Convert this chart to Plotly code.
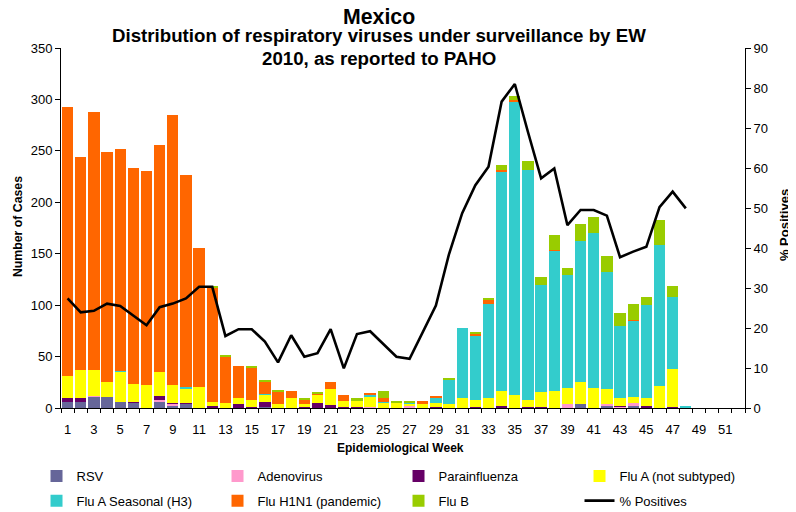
import plotly.graph_objects as go

weeks = list(range(1, 53))
tick_weeks = list(range(1, 52, 2))

rsv = [6, 6, 11, 11, 6, 5, 0, 6, 2, 4, 0, 0,
       0, 0, 0, 1, 0, 0, 0, 0, 0, 0, 0, 0, 0, 0, 0, 0, 0, 0,
       0, 0, 0, 0, 0, 0, 0, 0, 0, 4, 0, 2, 0, 2, 0, 0, 0, 0,
       0, 0, 0, 0]
adeno = [0, 0, 1, 0, 0, 0, 0, 2, 2, 0, 0, 0,
         0, 0, 0, 0, 0, 0, 0, 0, 0, 0, 0, 1, 0, 0, 2, 0, 0, 0,
         0, 0, 0, 0, 0, 0, 0, 0, 4, 0, 0, 2, 1, 3, 0, 0, 0, 0,
         0, 0, 0, 0]
para = [4, 4, 0, 0, 0, 1, 0, 4, 1, 1, 0, 2,
        0, 4, 1, 5, 0, 0, 1, 5, 3, 1, 1, 0, 0, 0, 0, 0, 1, 0,
        0, 1, 0, 2, 0, 1, 1, 0, 0, 0, 0, 0, 1, 0, 2, 0, 1, 0,
        0, 0, 0, 0]
flua_nst = [21, 27, 25, 14, 29, 17, 22, 23, 17, 14, 20, 4,
            5, 6, 7, 7, 4, 10, 3, 8, 15, 6, 6, 10, 5, 5, 2, 4, 4, 4,
            10, 7, 10, 15, 13, 7, 15, 17, 15, 21, 19, 14, 8, 6, 8, 21, 37, 0,
            0, 0, 0, 0]
flua_h3 = [0, 0, 0, 0, 1, 0, 0, 0, 0, 1, 0, 0,
           0, 0, 0, 1, 0, 0, 0, 0, 0, 0, 0, 2, 1, 0, 1, 0, 5, 23,
           68, 62, 91, 212, 285, 223, 104, 136, 110, 137, 151, 114, 70, 74, 90, 137, 70, 1,
           0, 0, 0, 0]
h1n1 = [262, 207, 251, 224, 216, 210, 208, 221, 263, 207, 136, 111,
        45, 31, 31, 12, 12, 7, 4, 1, 7, 6, 0, 1, 4, 0, 0, 3, 2, 0,
        0, 2, 4, 2, 1, 0, 0, 1, 0, 0, 0, 0, 0, 1, 0, 0, 0, 0,
        0, 0, 0, 0]
flub = [0, 0, 0, 0, 0, 0, 0, 0, 0, 0, 0, 1,
        1, 0, 2, 1, 1, 0, 2, 2, 0, 0, 3, 0, 7, 2, 2, 0, 0, 2,
        0, 1, 2, 5, 4, 9, 7, 14, 7, 17, 16, 16, 12, 15, 8, 25, 11, 0,
        0, 0, 0, 0]
pct_pos = [27.4, 23.9, 24.3, 26.1, 25.5, 23.0, 20.7, 25.2, 26.1, 27.4, 30.3, 30.3,
           18.0, 19.7, 19.7, 16.6, 11.4, 18.2, 12.8, 13.7, 19.7, 9.9, 18.5, 19.2, 16.0, 12.8, 12.3, 18.8, 25.6, 38.5,
           48.7, 55.7, 60.3, 76.6, 81.0, 69.0, 57.4, 59.9, 45.7, 49.5, 49.5, 48.1, 37.7, 39.1, 40.3, 50.2, 54.1, 49.9,
           None, None, None, None]

series = [
    ("RSV", rsv, "#666699", "legend"),
    ("Adenovirus", adeno, "#FF99CC", "legend"),
    ("Parainfluenza", para, "#660066", "legend"),
    ("Flu A (not subtyped)", flua_nst, "#FFFF00", "legend"),
    ("Flu A Seasonal (H3)", flua_h3, "#33CCCC", "legend2"),
    ("Flu H1N1 (pandemic)", h1n1, "#FF6600", "legend2"),
    ("Flu B", flub, "#99CC00", "legend2"),
]

FONT = "Liberation Sans, Arial, sans-serif"

fig = go.Figure()
for name, vals, color, lg in series:
    fig.add_trace(go.Bar(x=weeks, y=vals, name=name, marker=dict(color=color, line=dict(width=0)),
                         legend=lg))
fig.add_trace(go.Scatter(x=weeks, y=pct_pos, name="% Positives", mode="lines",
                         line=dict(color="black", width=2.6), yaxis="y2", legend="legend2"))

# page body has an 8px margin: figure is 788x504 so that it fills the 796x512 window
fig.update_layout(
    width=788, height=504,
    margin=dict(l=53, r=51, t=40, b=104, autoexpand=False),
    paper_bgcolor="white", plot_bgcolor="white",
    barmode="stack", bargap=0.14,
    font=dict(family=FONT, size=12, color="black"),
    showlegend=True,
    xaxis=dict(range=[0.5, 52.5], tickmode="array", tickvals=tick_weeks,
               ticks="", showline=True, linecolor="black", linewidth=1,
               showgrid=False, zeroline=False, tickfont=dict(size=13),
               ticklabelstandoff=9, automargin=False,
               minor=dict(tick0=0.5, dtick=1, ticks="outside", ticklen=4,
                          tickcolor="black", showgrid=False)),
    yaxis=dict(range=[0, 350], dtick=50, ticks="outside", ticklen=5, tickcolor="black",
               showline=True, linecolor="black", linewidth=1, showgrid=False, zeroline=False,
               tickfont=dict(size=13), automargin=False),
    yaxis2=dict(range=[0, 90], dtick=10, overlaying="y", side="right", ticks="outside",
                ticklen=5, tickcolor="black", showline=True, linecolor="black", linewidth=1,
                showgrid=False, zeroline=False, tickfont=dict(size=13), automargin=False),
    yaxis3=dict(range=[0, 90], dtick=10, overlaying="y", side="right", ticks="inside",
                ticklen=5, tickcolor="black", showline=False, showticklabels=False,
                showgrid=False, zeroline=False, automargin=False),
    legend=dict(orientation="h", x=-0.0358, xanchor="left", y=-0.1889, yanchor="middle",
                entrywidth=136, entrywidthmode="pixels", traceorder="normal",
                font=dict(size=13), bgcolor="rgba(0,0,0,0)"),
    legend2=dict(orientation="h", x=-0.0358, xanchor="left", y=-0.2575, yanchor="middle",
                 entrywidth=136, entrywidthmode="pixels", traceorder="normal",
                 font=dict(size=13), bgcolor="rgba(0,0,0,0)"),
)

annotations = [
    dict(text="<b>Mexico</b>", x=0.465, y=1.086, font=dict(size=21.3)),
    dict(text="<b>Distribution of respiratory viruses under surveillance by EW</b>", x=0.465, y=1.036,
         font=dict(size=18.7)),
    dict(text="<b>2010, as reported to PAHO</b>", x=0.465, y=0.972, font=dict(size=18.7)),
    dict(text="<b>Epidemiological Week</b>", x=0.497, y=-0.110, font=dict(size=12)),
    dict(text="<b>Number of Cases</b>", x=-0.063, y=0.505, textangle=-90, font=dict(size=12.3)),
    dict(text="<b>% Positives</b>", x=1.057, y=0.508, textangle=-90, font=dict(size=13)),
]
for a in annotations:
    fig.add_annotation(xref="paper", yref="paper", showarrow=False, xanchor="center",
                       yanchor="middle", **a)

fig.write_html("out.html")
